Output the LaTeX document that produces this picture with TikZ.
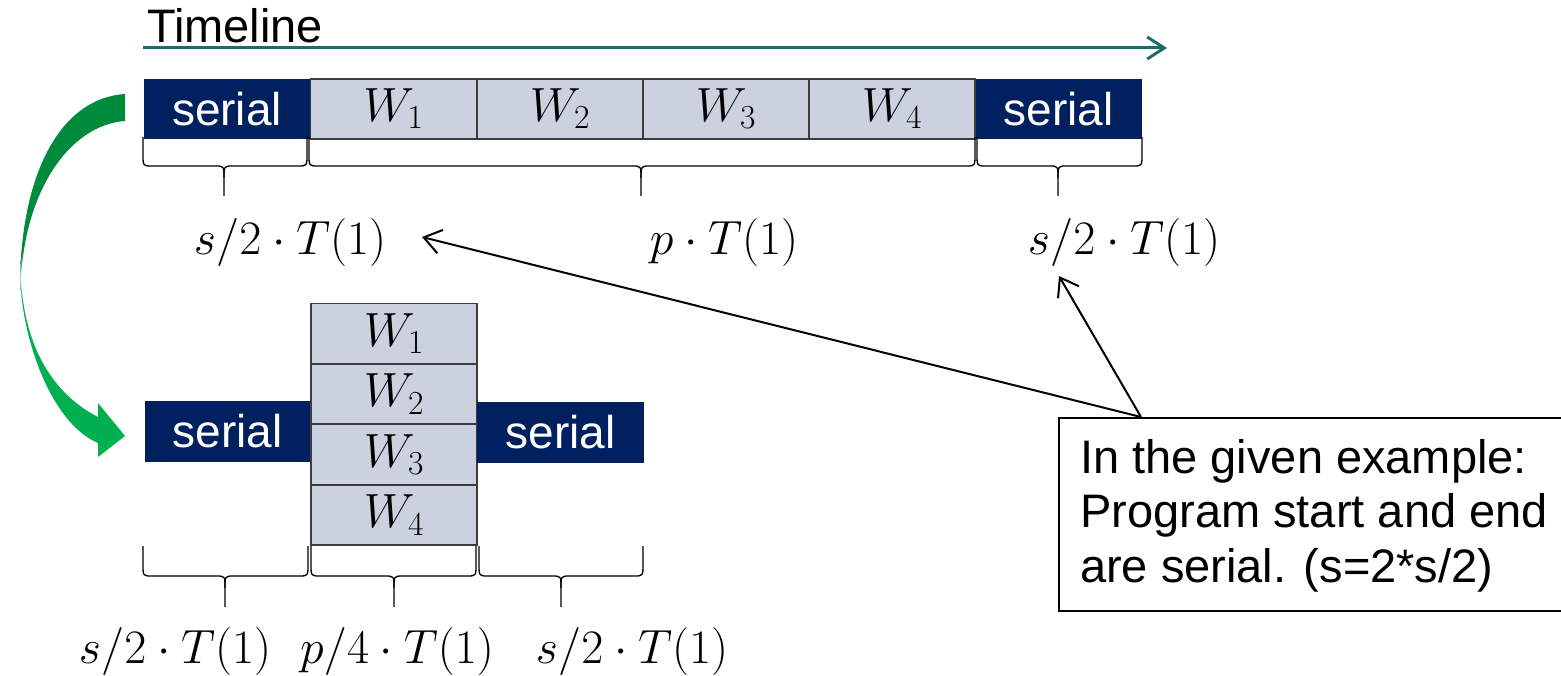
\documentclass[tikz,border=0pt]{standalone}
\usepackage{fix-cm}
\usepackage[no-math]{fontspec}
\setmainfont{Liberation Sans}
\usetikzlibrary{arrows.meta}

\definecolor{navy}{RGB}{0,32,96}
\definecolor{wfill}{RGB}{203,209,223}
\definecolor{wline}{RGB}{60,60,60}
\definecolor{teal}{RGB}{28,110,110}
\definecolor{gdark}{RGB}{0,138,60}
\definecolor{gbright}{RGB}{0,176,80}
\definecolor{glight}{RGB}{170,225,190}

\pgfdeclareverticalshading{curvedgreen}{100bp}{%
  color(0bp)=(gbright); color(46bp)=(gbright); color(50bp)=(glight);
  color(53bp)=(gdark); color(100bp)=(gdark)}

\newcommand\bigtxt{\fontsize{46}{54}\selectfont}
\newcommand\mathtxt{\fontsize{48}{54}\selectfont}
\newcommand\notetxt{\fontsize{47}{54}\selectfont}

% curly brace under a span: x1, x2, tip x, top y, middle y, tip y
\newcommand\spanbrace[6]{%
  \draw[bracestyle] (#1,#4) -- (#1,#5-12) .. controls (#1,#5) .. (#1+9,#5)
     -- (#3-9,#5) .. controls (#3,#5) .. (#3,#5+12) -- (#3,#6);
  \draw[bracestyle] (#2,#4) -- (#2,#5-12) .. controls (#2,#5) .. (#2-9,#5)
     -- (#3+9,#5) .. controls (#3,#5) .. (#3,#5+12);
}

\begin{document}
\begin{tikzpicture}[x=1pt,y=-1pt,
  serialbox/.style={fill=navy, text=white, minimum width=166pt, minimum height=60pt,
    inner sep=0pt, font=\bigtxt},
  wbox/.style={fill=wfill, draw=wline, line width=1.5pt, minimum width=166pt,
    minimum height=60pt, inner sep=0pt, font=\mathtxt},
  lbl/.style={font=\mathtxt, inner sep=0pt, anchor=base},
  notetext/.style={font=\notetxt, inner sep=0pt, anchor=base west},
  bracestyle/.style={line width=1.3pt, black, line join=round},
  ptr/.style={line width=2pt, black, -{Straight Barb[length=17pt,width=24pt,line width=2pt]}},
  timearrow/.style={line width=3pt, teal, -{Straight Barb[length=17pt,width=22pt,line width=3pt]}}
]
\useasboundingbox (0,0) rectangle (1561,676);

% timeline
\node[font=\notetxt, inner sep=0pt, anchor=base west] (tltext) at (147,43) {Timeline};
\coordinate (tl0) at (143,48);
\coordinate (tl1) at (1167,48);
\draw[timearrow] (tl0) -- (tl1);

% sequential run
\node[serialbox] (s1) at (227,109) {serial};
\node[wbox] (w1) at (393.5,109) {$W_1$};
\node[wbox] (w2) at (560,109) {$W_2$};
\node[wbox] (w3) at (726,109) {$W_3$};
\node[wbox] (w4) at (892,109) {$W_4$};
\node[serialbox] (s2) at (1058.5,109) {serial};

\spanbrace{143}{307}{224}{137}{166}{196}
\spanbrace{309}{975}{641}{137}{166}{196}
\spanbrace{977}{1142}{1058}{137}{166}{196}

\node[lbl] (ta) at (290,255) {$s/2\cdot T(1)$};
\node[lbl] (tb) at (724,255) {$p\cdot T(1)$};
\node[lbl] (tc) at (1124,255) {$s/2\cdot T(1)$};

% parallel run
\node[serialbox, minimum width=165pt, minimum height=61pt] (ps1) at (227.5,431.5) {serial};
\node[wbox] (pw1) at (394,333.5) {$W_1$};
\node[wbox] (pw2) at (394,394) {$W_2$};
\node[wbox] (pw3) at (394,454.5) {$W_3$};
\node[wbox] (pw4) at (394,515) {$W_4$};
\node[serialbox, minimum width=167pt, minimum height=61pt] (ps2) at (560.5,432.5) {serial};

\spanbrace{143}{308}{225}{546}{576}{607}
\spanbrace{311}{476}{394}{546}{576}{607}
\spanbrace{479}{643}{561}{546}{576}{607}

\node[lbl] (ba) at (175,663) {$s/2\cdot T(1)$};
\node[lbl] (bb) at (397,663) {$p/4\cdot T(1)$};
\node[lbl] (bc) at (632,663) {$s/2\cdot T(1)$};

% curved arrow from the sequential to the parallel run
\shade[shading=curvedgreen]
  (125,94) .. controls (62,98) and (22,170) .. (20,280)
  .. controls (24,350) and (55,425) .. (98,443)
  -- (98,457) -- (125,436) -- (98,403) -- (98,417)
  .. controls (55,395) and (25,350) .. (21,280)
  .. controls (25,190) and (70,125) .. (125,121) -- cycle;

% note
\node[draw, line width=2pt, anchor=north west, minimum width=525pt,
  minimum height=193pt, inner sep=0pt] (note) at (1058,417) {};
\node[notetext] (n1) at (1080,473) {In the given example:};
\node[notetext] (n2) at (1080,527) {Program start and end};
\node[notetext] (n3) at (1080,582) {are serial. (s=2*s/2)};

\coordinate (nt) at ([xshift=83pt]note.north west);
\coordinate (tatip) at (422,237);
\coordinate (tctip) at (1059,276);
\draw[ptr] (nt) -- (tatip);
\draw[ptr] (nt) -- (tctip);
\end{tikzpicture}
\end{document}
